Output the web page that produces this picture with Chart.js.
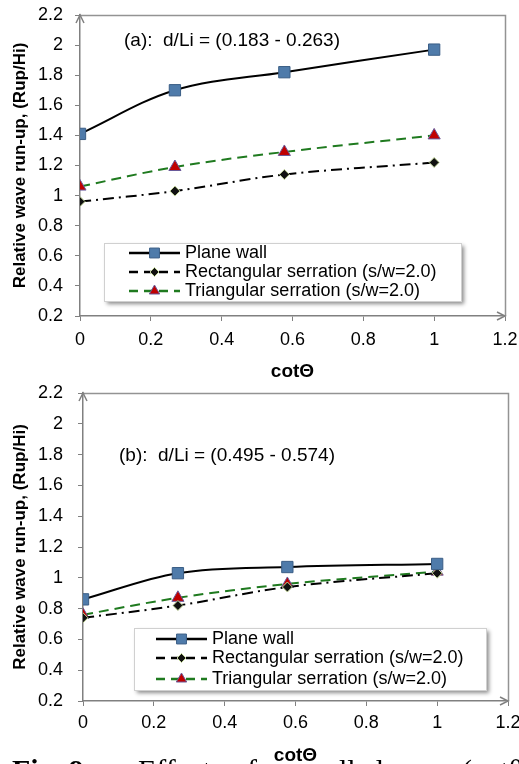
<!DOCTYPE html>
<html>
<head>
<meta charset="utf-8">
<script src="https://cdn.jsdelivr.net/npm/chart.js@4/dist/chart.umd.min.js"></script>
<style>
  html, body { margin: 0; padding: 0; background: #fff; overflow: hidden; }
  .wrap { position: absolute; left: 0; width: 519px; }
  #c1wrap { top: 0; height: 384px; }
  #c2wrap { top: 380px; height: 390px; }
  .cap {
    position: absolute; top: 755px; line-height: 30px; white-space: nowrap;
    font-family: "Liberation Serif", "Times New Roman", serif; font-size: 30px; color: #000;
  }
</style>
</head>
<body>
<div class="wrap" id="c1wrap"><canvas id="c1" width="519" height="384"></canvas></div>
<div class="wrap" id="c2wrap"><canvas id="c2" width="519" height="390"></canvas></div>
<span class="cap" style="left:12px"><b>Fig. 9</b></span>
<span class="cap" style="left:100px">&ndash;</span>
<span class="cap" style="left:138px">Effect</span>
<span class="cap" style="left:232px">of</span>
<span class="cap" style="left:304px">wall</span>
<span class="cap" style="left:364px">slope</span>
<span class="cap" style="left:462px">(cot&theta;)</span>

<script>
// cotθ values of the tested wall slopes
const cotTheta = [0, 0.268, 0.577, 1.0];

// (a) d/Li = 0.183 - 0.263
const planeA = [1.41, 1.70, 1.82, 1.97];
const rectA  = [0.96, 1.03, 1.14, 1.22];
const triA   = [1.06, 1.19, 1.29, 1.40];

// (b) d/Li = 0.495 - 0.574
const planeB = [0.86, 1.03, 1.07, 1.09];
const rectB  = [0.74, 0.82, 0.94, 1.03];
const triB   = [0.76, 0.87, 0.96, 1.04];

const seriesNames = ['Plane wall', 'Rectangular serration (s/w=2.0)', 'Triangular serration (s/w=2.0)'];
const xTicks = [0, 0.2, 0.4, 0.6, 0.8, 1, 1.2];
const yTicks = [0.2, 0.4, 0.6, 0.8, 1, 1.2, 1.4, 1.6, 1.8, 2, 2.2];

const FONT = '"Liberation Sans", Arial, sans-serif';
const pts = (ys) => cotTheta.map((x, i) => ({ x: x, y: ys[i] }));

function makeDatasets(plane, rect, tri) {
  return [
    {
      label: seriesNames[0], data: pts(plane),
      borderColor: '#000', borderWidth: 2, tension: 0.35,
      pointStyle: 'rect', pointRadius: 8, pointBackgroundColor: '#4F7BAA',
      pointBorderColor: '#3B5E86', pointBorderWidth: 1, legendDash: [], legendRadius: 7
    },
    {
      label: seriesNames[1], data: pts(rect),
      borderColor: '#000', borderWidth: 2, borderDash: [11, 5, 2, 5], tension: 0.35,
      pointStyle: 'rectRot', pointRadius: 5, pointBackgroundColor: '#111',
      pointBorderColor: '#C4D79B', pointBorderWidth: 1, legendDash: [9, 6], legendRadius: 4.5
    },
    {
      label: seriesNames[2], data: pts(tri),
      borderColor: '#1F7A1F', borderWidth: 2, borderDash: [10, 6], tension: 0.35,
      pointStyle: 'triangle', pointRadius: 7, pointBackgroundColor: '#C00000',
      pointBorderColor: '#6A5A9A', pointBorderWidth: 1, legendDash: [9, 6], legendRadius: 6
    }
  ];
}

const overlay = {
  id: 'overlay',
  afterDraw(chart, args, opts) {
    const ctx = chart.ctx;
    const a = chart.chartArea;
    ctx.save();
    // plot frame (top and right)
    ctx.strokeStyle = '#939393';
    ctx.lineWidth = 1.5;
    ctx.beginPath();
    ctx.moveTo(a.left, a.top + 0.5);
    ctx.lineTo(a.right + 0.5, a.top + 0.5);
    ctx.lineTo(a.right + 0.5, a.bottom);
    ctx.stroke();
    // arrow heads on axes
    ctx.strokeStyle = '#808080';
    ctx.lineWidth = 1.5;
    ctx.beginPath();
    ctx.moveTo(a.left - 4, a.top + 8); ctx.lineTo(a.left, a.top); ctx.lineTo(a.left + 4, a.top + 8);
    ctx.moveTo(a.right - 8, a.bottom - 4); ctx.lineTo(a.right, a.bottom); ctx.lineTo(a.right - 8, a.bottom + 4);
    ctx.stroke();

    // annotation
    ctx.fillStyle = '#000';
    ctx.font = '19px ' + FONT;
    ctx.textBaseline = 'middle';
    ctx.textAlign = 'left';
    ctx.fillText(opts.note.text, opts.note.x, opts.note.y);

    // legend box with shadow
    const L = opts.legend;
    ctx.save();
    ctx.shadowColor = 'rgba(0,0,0,0.45)';
    ctx.shadowBlur = 4;
    ctx.shadowOffsetX = 3;
    ctx.shadowOffsetY = 3;
    ctx.fillStyle = '#fff';
    ctx.fillRect(L.x, L.y, L.w, L.h);
    ctx.restore();
    ctx.strokeStyle = '#D0D0D0';
    ctx.lineWidth = 1;
    ctx.strokeRect(L.x + 0.5, L.y + 0.5, L.w, L.h);

    chart.data.datasets.forEach((ds, i) => {
      const y = L.rows[i];
      const x0 = L.sampleX, x1 = L.sampleX + L.sampleW;
      ctx.strokeStyle = ds.borderColor;
      ctx.lineWidth = 2.5;
      ctx.setLineDash(ds.legendDash);
      ctx.beginPath();
      ctx.moveTo(x0, y); ctx.lineTo(x1, y);
      ctx.stroke();
      ctx.setLineDash([]);
      ctx.fillStyle = ds.pointBackgroundColor;
      ctx.strokeStyle = ds.pointBorderColor;
      ctx.lineWidth = ds.pointBorderWidth;
      Chart.helpers.drawPoint(ctx, { pointStyle: ds.pointStyle, radius: ds.legendRadius, rotation: 0, borderWidth: ds.pointBorderWidth }, (x0 + x1) / 2, y);
      ctx.fillStyle = '#000';
      ctx.font = '18px ' + FONT;
      ctx.fillText(ds.label, L.textX, y);
    });
    ctx.restore();
  }
};

function makeChart(id, datasets, note, legend, geo) {
  return new Chart(document.getElementById(id), {
    type: 'scatter',
    data: { datasets: datasets },
    plugins: [overlay],
    options: {
      responsive: false,
      animation: false,
      showLine: true,
      layout: { padding: { left: 0, right: geo.right, top: geo.top, bottom: 0 } },
      plugins: {
        legend: { display: false },
        tooltip: { enabled: false },
        overlay: { note: note, legend: legend }
      },
      scales: {
        x: {
          min: 0, max: 1.2,
          afterBuildTicks: (s) => { s.ticks = xTicks.map(v => ({ value: v })); },
          afterFit: (s) => { s.height = geo.xHeight; s.paddingLeft = 0; s.paddingRight = 0; },
          ticks: { color: '#000', font: { size: 18, family: FONT }, padding: geo.xPad,
                   maxRotation: 0, callback: (v) => String(Number(v.toFixed(1))) },
          grid: { drawOnChartArea: false, drawTicks: true, tickLength: 5, color: '#808080' },
          border: { display: true, color: '#808080', width: 1.5 },
          title: { display: true, text: 'cotΘ', color: '#000', font: { size: 19, weight: 'bold', family: FONT },
                   padding: { top: 0, bottom: geo.titleBottom } }
        },
        y: {
          min: 0.2, max: 2.2,
          afterBuildTicks: (s) => { s.ticks = yTicks.map(v => ({ value: v })); },
          afterFit: (s) => { s.width = geo.yWidth; s.paddingTop = 0; s.paddingBottom = 0; },
          ticks: { color: '#000', font: { size: 18, family: FONT }, padding: geo.yPad,
                   callback: (v) => String(Number(v.toFixed(1))) },
          grid: { drawOnChartArea: false, drawTicks: true, tickLength: 5, color: '#808080' },
          border: { display: true, color: '#808080', width: 1.5 },
          title: { display: true, text: 'Relative wave run-up, (Rup/Hi)', color: '#000',
                   font: { size: 17, weight: 'bold', family: FONT }, padding: { top: 10, bottom: 0 } }
        }
      }
    }
  });
}

makeChart('c1', makeDatasets(planeA, rectA, triA),
  { text: '(a):  d/Li = (0.183 - 0.263)', x: 124, y: 41 },
  { x: 104, y: 243, w: 357, h: 58, rows: [253, 272, 291], sampleX: 129, sampleW: 51, textX: 185 },
  { right: 14, top: 15, xHeight: 68, xPad: 8, titleBottom: 1, yWidth: 80, yPad: 12 });

makeChart('c2', makeDatasets(planeB, rectB, triB),
  { text: '(b):  d/Li = (0.495 - 0.574)', x: 119, y: 76 },
  { x: 134, y: 248, w: 352, h: 62, rows: [259, 278, 299], sampleX: 156, sampleW: 51, textX: 212 },
  { right: 11, top: 13, xHeight: 69, xPad: 6, titleBottom: 3, yWidth: 83, yPad: 15 });
</script>
</body>
</html>
